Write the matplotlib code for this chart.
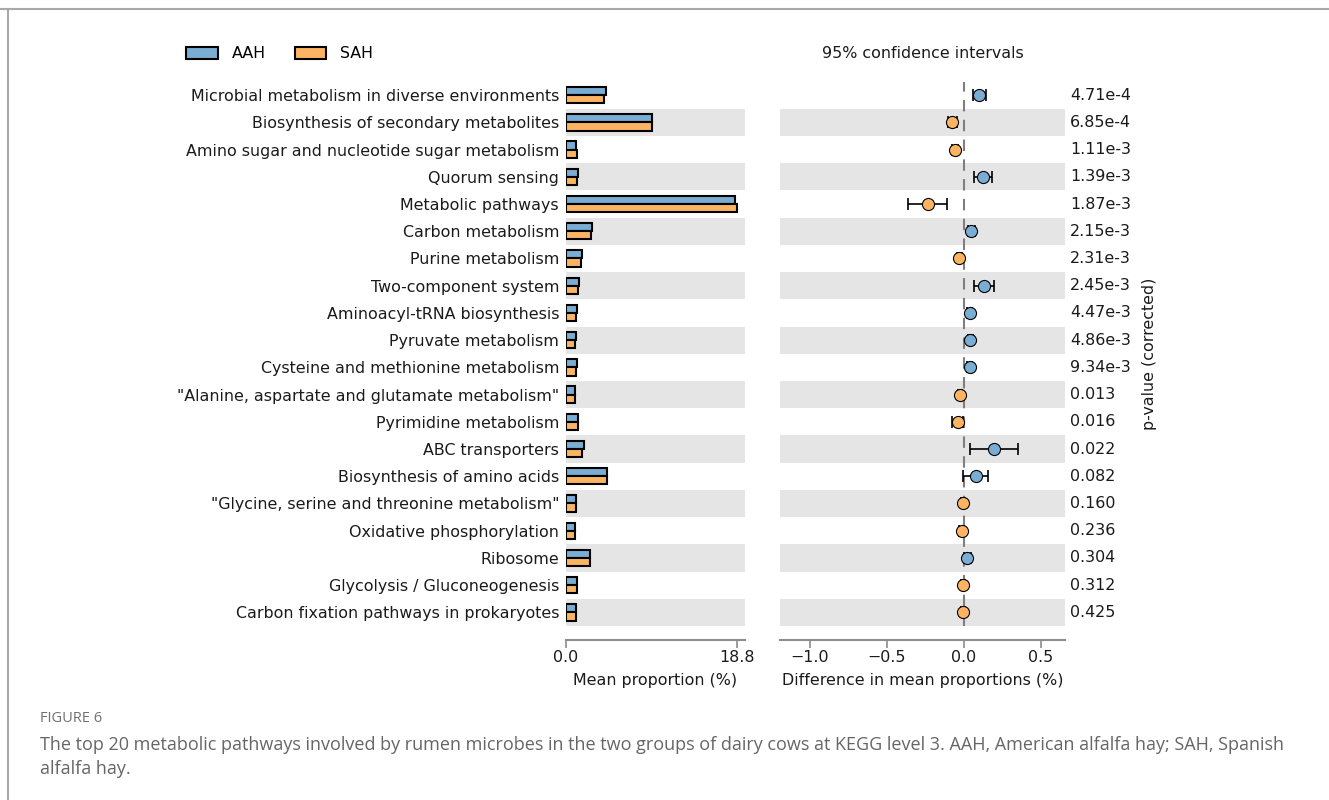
import matplotlib
matplotlib.use("Agg")
import matplotlib.pyplot as plt
import matplotlib.transforms as mtransforms
from matplotlib.patches import Patch
from matplotlib.lines import Line2D

# KEGG level-3 pathways, top to bottom
pathways = [
    "Microbial metabolism in diverse environments",
    "Biosynthesis of secondary metabolites",
    "Amino sugar and nucleotide sugar metabolism",
    "Quorum sensing",
    "Metabolic pathways",
    "Carbon metabolism",
    "Purine metabolism",
    "Two-component system",
    "Aminoacyl-tRNA biosynthesis",
    "Pyruvate metabolism",
    "Cysteine and methionine metabolism",
    "\"Alanine, aspartate and glutamate metabolism\"",
    "Pyrimidine metabolism",
    "ABC transporters",
    "Biosynthesis of amino acids",
    "\"Glycine, serine and threonine metabolism\"",
    "Oxidative phosphorylation",
    "Ribosome",
    "Glycolysis / Gluconeogenesis",
    "Carbon fixation pathways in prokaryotes",
]

# Mean proportion (%) per group
aah_mean = [4.36, 9.41, 1.13, 1.35, 18.55, 2.86, 1.72, 1.43, 1.19, 1.06,
            1.17, 1.00, 1.33, 1.94, 4.54, 1.05, 1.00, 2.64, 1.24, 1.06]
sah_mean = [4.21, 9.45, 1.24, 1.17, 18.80, 2.78, 1.70, 1.32, 1.15, 1.01,
            1.13, 1.03, 1.37, 1.75, 4.47, 1.06, 1.02, 2.60, 1.25, 1.07]

# Difference in mean proportions (%) with 95% CI bounds
diff = [0.100, -0.076, -0.060, 0.125, -0.236, 0.048, -0.030, 0.132, 0.037, 0.041,
        0.037, -0.026, -0.039, 0.197, 0.076, -0.006, -0.015, 0.021, -0.006, -0.006]
ci_low = [0.060, -0.106, -0.080, 0.063, -0.364, 0.025, -0.048, 0.063, 0.022, 0.026,
          0.022, -0.042, -0.078, 0.041, -0.004, -0.020, -0.030, -0.003, -0.020, -0.020]
ci_high = [0.143, -0.045, -0.040, 0.182, -0.108, 0.070, -0.012, 0.197, 0.052, 0.056,
           0.052, -0.010, -0.004, 0.349, 0.154, 0.008, 0.002, 0.045, 0.008, 0.008]

p_values = ["4.71e-4", "6.85e-4", "1.11e-3", "1.39e-3", "1.87e-3", "2.15e-3", "2.31e-3",
            "2.45e-3", "4.47e-3", "4.86e-3", "9.34e-3", "0.013", "0.016", "0.022",
            "0.082", "0.160", "0.236", "0.304", "0.312", "0.425"]

groups = ["AAH", "SAH"]
mean_ticks = [0.0, 18.8]
diff_ticks = [-1.0, -0.5, 0.0, 0.5]

BLUE = "#7AADD3"
ORANGE = "#FDB462"
BAND = "#E5E5E5"
AXIS_GREY = "#8C8C8C"
TEXT = "#1A1A1A"
FS = 11.4

plt.rcParams["font.family"] = ["DejaVu Sans"]
plt.rcParams["font.size"] = FS

fig = plt.figure(figsize=(13.29, 8), dpi=100)

n = len(pathways)
ypos = [n - 1 - i for i in range(n)]

ax_bar = fig.add_axes([566 / 1329, 1 - 626 / 800, 179 / 1329, 544.5 / 800])
ax_ci = fig.add_axes([780 / 1329, 1 - 626 / 800, 285 / 1329, 544.5 / 800])

for ax in (ax_bar, ax_ci):
    ax.set_ylim(-0.5, n - 0.5)
    for i, y in enumerate(ypos):
        if i % 2 == 1:
            ax.axhspan(y - 0.5, y + 0.5, color=BAND, lw=0, zorder=0)
    for side in ("left", "right", "top"):
        ax.spines[side].set_visible(False)
    ax.spines["bottom"].set_position(("outward", 10))
    ax.spines["bottom"].set_color(AXIS_GREY)
    ax.spines["bottom"].set_linewidth(1.5)
    ax.tick_params(axis="x", colors=AXIS_GREY, labelcolor=TEXT, length=6, width=1.2,
                   labelsize=FS, pad=1.0)
    ax.tick_params(axis="y", length=0)

# Mean proportion bars
bh = 0.3
ax_bar.barh([y + bh / 2 for y in ypos], aah_mean, height=bh, color=BLUE,
            edgecolor="black", linewidth=1.5, zorder=3)
ax_bar.barh([y - bh / 2 for y in ypos], sah_mean, height=bh, color=ORANGE,
            edgecolor="black", linewidth=1.5, zorder=3)
ax_bar.set_xlim(0, 19.7)
ax_bar.set_xticks(mean_ticks)
ax_bar.set_xticklabels([f"{t:.1f}" for t in mean_ticks])
ax_bar.set_yticks(ypos)
ax_bar.set_yticklabels(pathways, fontsize=FS, color=TEXT)
ax_bar.tick_params(axis="y", pad=5)
ax_bar.set_xlabel("Mean proportion (%)", fontsize=FS, color=TEXT, labelpad=6)

# Difference with confidence intervals
ax_ci.set_xlim(-1.195, 0.656)
ax_ci.axvline(0, color="#7F7F7F", ls=(0, (5.5, 4)), lw=1.5, zorder=1)
for y, d, lo, hi in zip(ypos, diff, ci_low, ci_high):
    ax_ci.errorbar([d], [y], xerr=[[d - lo], [hi - d]], fmt="none", ecolor="black",
                   elinewidth=1.2, capsize=4, capthick=1.2, zorder=3)
    ax_ci.plot([d], [y], "o", ms=8.7, mfc=BLUE if d > 0 else ORANGE, mec="black",
               mew=0.8, zorder=4)
ax_ci.set_xticks(diff_ticks)
ax_ci.set_xticklabels([f"{t:.1f}".replace("-", "\u2212") for t in diff_ticks])
ax_ci.set_yticks([])
ax_ci.set_xlabel("Difference in mean proportions (%)", fontsize=FS, color=TEXT, labelpad=6)
ax_ci.set_title("95% confidence intervals", fontsize=FS, color=TEXT, pad=17)

# Corrected p-values to the right of the CI panel
trans = mtransforms.blended_transform_factory(ax_ci.transAxes, ax_ci.transData)
for y, p in zip(ypos, p_values):
    ax_ci.text(1.017, y, p, transform=trans, ha="left", va="center", fontsize=FS,
               color=TEXT)
ax_ci.text(1.298, (n - 1) / 2, "p-value (corrected)", transform=trans, rotation=90,
           ha="center", va="center", fontsize=FS, color=TEXT)

# Group legend
handles = [Patch(facecolor=BLUE, edgecolor="black", linewidth=1.5),
           Patch(facecolor=ORANGE, edgecolor="black", linewidth=1.5)]
fig.legend(handles, groups, loc="center left", bbox_to_anchor=(186 / 1329, 1 - 54 / 800),
           ncol=2, frameon=False, fontsize=FS, handlelength=2.0, handleheight=0.85,
           handletextpad=0.9, columnspacing=1.8, borderaxespad=0, borderpad=0)

# Page frame and caption
fig.add_artist(Line2D([0, 1], [1 - 9 / 800, 1 - 9 / 800], transform=fig.transFigure,
                      color="#A8A8A8", lw=1.5))
fig.add_artist(Line2D([8 / 1329, 8 / 1329], [0, 1 - 9 / 800], transform=fig.transFigure,
                      color="#A8A8A8", lw=1.5))
fig.text(40 / 1329, 1 - 719 / 800, "FIGURE 6", fontsize=10.5, color="#707070",
         family=["Open Sans", "DejaVu Sans"], va="center", ha="left")
fig.text(40 / 1329, 1 - 745 / 800,
         "The top 20 metabolic pathways involved by rumen microbes in the two groups of dairy "
         "cows at KEGG level 3. AAH, American alfalfa hay; SAH, Spanish",
         fontsize=12.95, color="#666666", family=["Open Sans", "DejaVu Sans"],
         va="center", ha="left")
fig.text(40 / 1329, 1 - 769 / 800, "alfalfa hay.", fontsize=12.95, color="#666666",
         family=["Open Sans", "DejaVu Sans"], va="center", ha="left")

fig.savefig("out.png", dpi=100)
